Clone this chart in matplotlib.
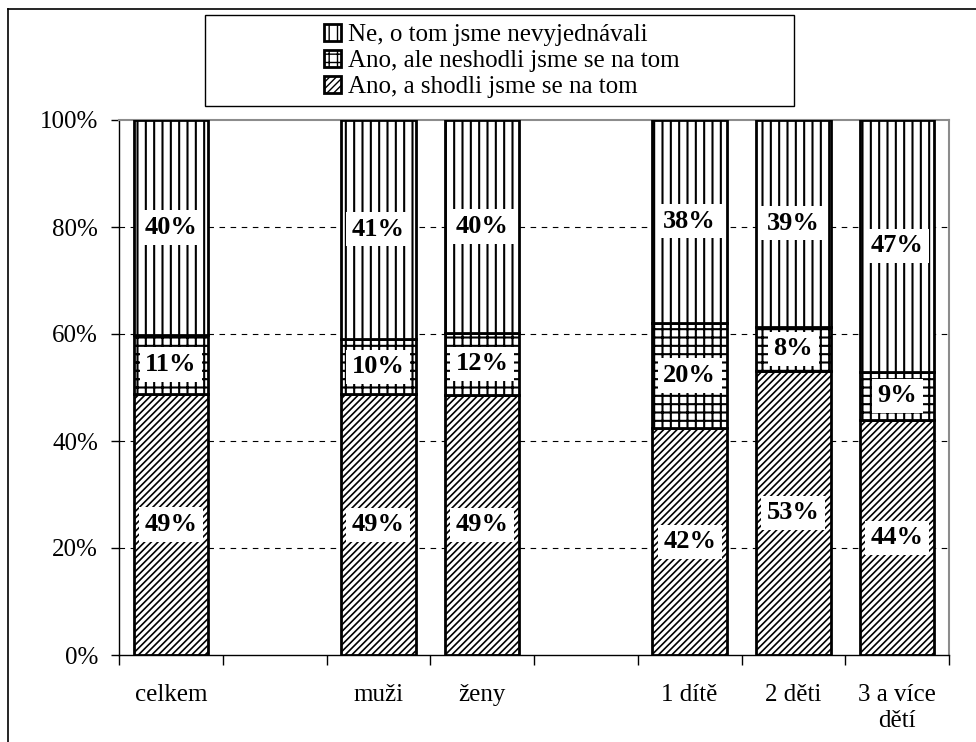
import matplotlib
matplotlib.use('Agg')
import matplotlib.pyplot as plt
import numpy as np
from matplotlib.patches import Patch, Rectangle
from matplotlib.lines import Line2D

plt.rcParams['font.family'] = ['Liberation Serif', 'DejaVu Serif']

# data (shares in %)
groups = ['celkem', 'muži', 'ženy', '1 dítě', '2 děti', '3 a více\ndětí']
slots = [0, 2, 3, 5, 6, 7]          # empty slots between the groups
shodli = [48.8, 48.7, 48.6, 42.4, 53.1, 43.9]
neshodli = [11.0, 10.4, 11.6, 19.7, 8.3, 9.05]
nevyjednavali = [40.2, 40.9, 39.8, 37.9, 38.6, 47.05]

series = [
    ('Ano, a shodli jsme se na tom', shodli, '/////', 1.2),
    ('Ano, ale neshodli jsme se na tom', neshodli, '++', 1.5),
    ('Ne, o tom jsme nevyjednávali', nevyjednavali, '||', 1.5),
]

fig = plt.figure(figsize=(9.76, 7.42), dpi=100)
ax = fig.add_axes([119 / 976, 87 / 742, 830 / 976, 535 / 742])

x = np.array(slots)
bottom = np.zeros(len(groups))
for name, vals, hatch, hlw in series:
    vals = np.array(vals)
    with plt.rc_context({'hatch.linewidth': hlw}):
        ax.bar(x, vals, width=0.72, bottom=bottom, color='white',
               edgecolor='black', linewidth=2, hatch=hatch, zorder=3)
    for xi, b, v in zip(x, bottom, vals):
        ax.text(xi, b + v / 2, f'{v:.0f}%', ha='center', va='center',
                fontsize=19, fontweight='bold', zorder=5,
                bbox=dict(facecolor='white', edgecolor='none', pad=4))
    bottom += vals

ax.set_ylim(0, 100)
ax.set_xlim(-0.5, 7.5)
ax.set_yticks(np.arange(0, 101, 20))
ax.set_yticklabels([f'{v}%' for v in range(0, 101, 20)], fontsize=18)
ax.tick_params(axis='y', direction='out', length=6, width=1, pad=9)

ax.set_xticks(np.arange(-0.5, 8, 1))
ax.set_xticklabels([])
ax.tick_params(axis='x', which='major', direction='out', length=7, width=1)
ax.set_xticks(x, minor=True)
ax.set_xticklabels(groups, minor=True, fontsize=18)
ax.tick_params(axis='x', which='minor', length=0, pad=21)

for v in [20, 40, 60, 80]:
    ax.axhline(v, color='black', linewidth=0.8, linestyle=(0, (5, 5)), zorder=1)

for side in ['top', 'right']:
    ax.spines[side].set_color('#8c8c8c')
    ax.spines[side].set_linewidth(1.5)
for side in ['left', 'bottom']:
    ax.spines[side].set_color('black')
    ax.spines[side].set_linewidth(1)

# legend, reversed order like the original
handles = []
for _, _, h, hlw in series[::-1]:
    with plt.rc_context({'hatch.linewidth': hlw}):
        handles.append(Patch(facecolor='white', edgecolor='black', linewidth=2, hatch=h))
labels = [n for n, _, _, _ in series][::-1]
fig.legend(handles, labels, loc='center', bbox_to_anchor=(502 / 976, 1 - 61 / 742),
           frameon=False, fontsize=18, handlelength=0.65, handleheight=0.65,
           handletextpad=0.3, labelspacing=0.15, borderpad=0)
fig.patches.append(Rectangle((205 / 976, 1 - 106 / 742), 589 / 976, 91 / 742,
                             transform=fig.transFigure, fill=False,
                             edgecolor='black', linewidth=1))

# outer chart frame (only the top and left edges are inside the picture)
fig.lines.append(Line2D([8 / 976, 8 / 976], [-0.1, 1 - 9 / 742],
                        transform=fig.transFigure, color='black', linewidth=1.2))
fig.lines.append(Line2D([8 / 976, 1.1], [1 - 9 / 742, 1 - 9 / 742],
                        transform=fig.transFigure, color='black', linewidth=1.2))

fig.savefig('out.png', dpi=100)
